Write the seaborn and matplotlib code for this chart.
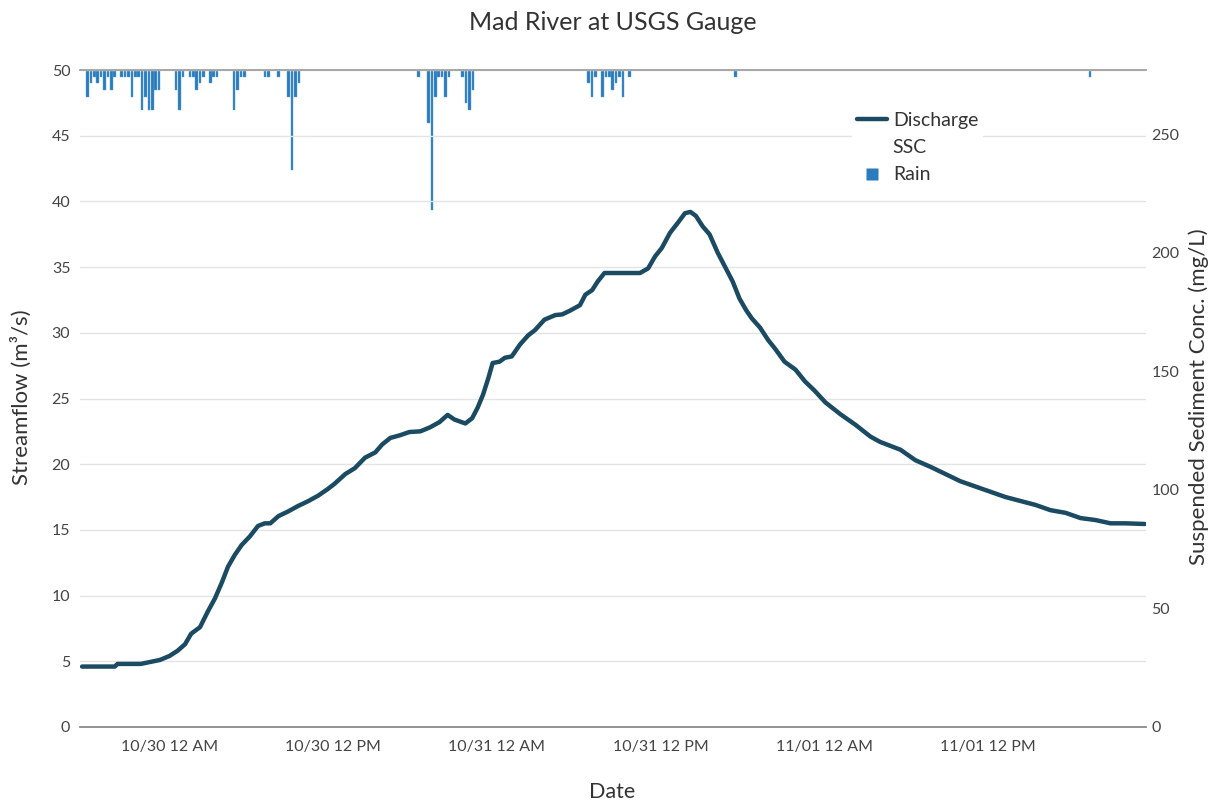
import matplotlib
matplotlib.use("Agg")
import matplotlib.pyplot as plt
import matplotlib.dates as mdates
from matplotlib.lines import Line2D
import numpy as np
import pandas as pd
import seaborn as sns

# ---- data -------------------------------------------------------------
base_time = pd.Timestamp("2019-10-30 00:00")

# Discharge (m3/s), hours relative to 10/30 midnight
discharge_hours = [
    -6.4, -4.0, -3.8, -2.1, -1.4, -0.7, 0.0, 0.6, 1.15, 1.6, 2.25, 2.8, 3.35,
    3.85, 4.3, 4.8, 5.3, 5.9, 6.5, 7.0, 7.4, 8.0, 8.7, 9.4, 10.2, 10.9, 11.6,
    12.1, 12.9, 13.6, 14.35, 15.1, 15.6, 16.2, 16.9, 17.6, 18.4, 19.1, 19.8,
    20.4, 20.9, 21.7, 22.2, 22.6, 23.0, 23.4, 23.7, 24.2, 24.6, 25.1, 25.7,
    26.3, 26.8, 27.5, 28.3, 28.8, 29.4, 30.1, 30.5, 31.0, 31.4, 31.9, 32.5,
    34.5, 35.1, 35.6, 36.1, 36.7, 37.3, 37.8, 38.2, 38.6, 39.1, 39.6, 40.2,
    40.7, 41.3, 41.8, 42.3, 42.7, 43.3, 43.9, 44.4, 45.1, 45.9, 46.6, 47.3,
    48.1, 49.2, 50.3, 51.4, 52.1, 53.6, 54.7, 55.8, 56.9, 58.0, 59.1, 60.2,
    61.3, 62.4, 63.5, 64.6, 65.7, 66.8, 67.9, 69.0, 70.1, 71.5,
]
discharge_cms = [
    4.6, 4.6, 4.8, 4.8, 4.95, 5.1, 5.4, 5.8, 6.3, 7.1, 7.6, 8.75, 9.8,
    11.0, 12.2, 13.1, 13.85, 14.5, 15.3, 15.5, 15.5, 16.05, 16.4, 16.8, 17.2,
    17.6, 18.1, 18.5, 19.25, 19.7, 20.5, 20.9, 21.5, 22.0, 22.2, 22.45, 22.5,
    22.8, 23.2, 23.75, 23.4, 23.1, 23.5, 24.3, 25.3, 26.6, 27.7, 27.8, 28.1,
    28.2, 29.1, 29.8, 30.2, 31.0, 31.35, 31.4, 31.7, 32.1, 32.9, 33.25, 33.9,
    34.55, 34.55, 34.55, 34.9, 35.8, 36.45, 37.6, 38.4, 39.1, 39.2, 38.9, 38.1,
    37.5, 36.1, 35.1, 33.9, 32.6, 31.7, 31.1, 30.4, 29.45, 28.8, 27.8, 27.2,
    26.3, 25.6, 24.7, 23.8, 23.0, 22.1, 21.7, 21.1, 20.3, 19.8, 19.25, 18.7,
    18.3, 17.9, 17.5, 17.2, 16.9, 16.5, 16.3, 15.9, 15.75, 15.5, 15.5, 15.45,
]

# Rainfall (inches per 15 min), hours relative to 10/30 midnight
rain_hours = [
    -6.0, -5.75, -5.5, -5.25, -5.0, -4.75, -4.5, -4.25, -4.0,
    -3.5, -3.25, -3.0, -2.75, -2.5, -2.25, -2.0, -1.75, -1.5, -1.25, -1.0, -0.75,
    0.5, 0.75, 1.0, 1.5, 1.75, 2.0, 2.25, 2.5, 3.0, 3.25, 3.5,
    4.75, 5.0, 5.25, 5.5, 7.0, 7.25, 8.0, 8.75, 9.0, 9.25, 9.5,
    18.25, 19.0, 19.25, 19.5, 19.75, 20.0, 20.25, 20.5,
    21.5, 21.75, 22.0, 22.25,
    30.75, 31.0, 31.25, 31.75, 32.0, 32.25, 32.5, 32.75, 33.0, 33.25, 33.75,
    41.5, 67.5,
]
rain_in = [
    0.04, 0.02, 0.01, 0.02, 0.01, 0.03, 0.01, 0.03, 0.01,
    0.01, 0.01, 0.01, 0.04, 0.01, 0.01, 0.06, 0.04, 0.06, 0.06, 0.03, 0.03,
    0.03, 0.06, 0.01, 0.01, 0.01, 0.03, 0.02, 0.01, 0.02, 0.01, 0.01,
    0.06, 0.03, 0.01, 0.01, 0.01, 0.01, 0.01, 0.04, 0.15, 0.04, 0.02,
    0.01, 0.08, 0.21, 0.04, 0.01, 0.01, 0.04, 0.01,
    0.01, 0.05, 0.06, 0.03,
    0.02, 0.04, 0.01, 0.04, 0.01, 0.01, 0.03, 0.02, 0.01, 0.04, 0.01,
    0.01, 0.01,
]

flow = pd.DataFrame({
    "time": base_time + pd.to_timedelta(discharge_hours, unit="h"),
    "Discharge": discharge_cms,
})
rain = pd.DataFrame({
    "time": base_time + pd.to_timedelta(rain_hours, unit="h"),
    "Rain": rain_in,
})

# ---- style ------------------------------------------------------------
sns.set_theme(style="white")
plt.rcParams["font.family"] = ["Lato", "DejaVu Sans"]
text_col = "#444444"
label_col = "#333333"
line_col = "#1b4a63"
rain_col = "#2b7bbf"
axis_col = "#8a8a8a"

fig = plt.figure(figsize=(12.13, 8.01), dpi=100)
ax = fig.add_axes([80 / 1213, 1 - 727 / 801, (1146 - 80) / 1213, (727 - 70) / 801])
ax_ssc = ax.twinx()
ax_rain = ax.twinx()

# discharge
sns.lineplot(data=flow, x="time", y="Discharge", ax=ax, color=line_col,
             linewidth=3.2, legend=False)
ax.set_ylim(0, 50)
ax.set_yticks(np.arange(0, 51, 5))
ax.grid(axis="y", color="#e4e4e4", linewidth=1)
ax.set_xlabel("")
ax.set_ylabel("")

# rain hanging from the top
bar_w = 2.6 / 13.64 / 24
ax_rain.bar(rain["time"], rain["Rain"], width=bar_w, color=rain_col,
            edgecolor="#5fa3d6", linewidth=0.3)
ax_rain.set_ylim(0.985, 0)
ax_rain.set_yticks([])
ax_rain.grid(False)

# SSC axis (right)
ax_ssc.set_ylim(0, 277)
ax_ssc.set_yticks(np.arange(0, 251, 50))
ax_ssc.grid(False)

x0 = base_time + pd.Timedelta(hours=-6.55)
x1 = base_time + pd.Timedelta(hours=71.6)
ax.set_xlim(x0, x1)
ticks = [base_time + pd.Timedelta(hours=h) for h in range(0, 61, 12)]
ax.set_xticks(ticks)
ax.xaxis.set_major_formatter(mdates.DateFormatter("%m/%d %I %p"))

for a in (ax, ax_ssc, ax_rain):
    for side in ("left", "right", "top", "bottom"):
        a.spines[side].set_visible(False)
ax.spines["bottom"].set_visible(True)
ax.spines["bottom"].set_color(axis_col)
ax.spines["bottom"].set_linewidth(1.3)
ax.spines["top"].set_visible(True)
ax.spines["top"].set_color("#a0a0a0")
ax.spines["top"].set_linewidth(1.3)
ax.set_zorder(ax_rain.get_zorder() + 1)
ax.patch.set_visible(False)

ax.tick_params(axis="x", direction="in", length=8, width=1, color=axis_col,
               labelsize=11.5, labelcolor=text_col, pad=9)
ax.tick_params(axis="y", length=0, labelsize=11.5, labelcolor=text_col, pad=7)
ax_ssc.tick_params(axis="y", length=0, labelsize=11.5, labelcolor=text_col, pad=4)

# titles and labels
fig.text(0.505, 1 - 22 / 801, "Mad River at USGS Gauge", ha="center", va="center",
         fontsize=18, color=label_col)
fig.text(612 / 1213, 1 - 792 / 801, "Date", ha="center", va="center",
         fontsize=15.5, color=label_col)
fig.text(21 / 1213, 1 - 397 / 801, "Streamflow (m³/s)", ha="center", va="center",
         rotation=90, fontsize=16, color=label_col)
fig.text(1199 / 1213, 1 - 397 / 801, "Suspended Sediment Conc. (mg/L)",
         ha="center", va="center", rotation=90, fontsize=16, color=label_col)

# legend
handles = [
    Line2D([], [], color=line_col, linewidth=3.2, label="Discharge"),
    Line2D([], [], color="none", label="SSC"),
    Line2D([], [], color="none", marker="s", markersize=9,
           markerfacecolor=rain_col, markeredgecolor="none", label="Rain"),
]
leg = fig.legend(handles=handles, loc="upper left",
                 bbox_to_anchor=(852 / 1213, 1 - 107 / 801), frameon=True,
                 facecolor="white", edgecolor="none", framealpha=1,
                 fontsize=14, handlelength=1.55, handleheight=0.6,
                 labelspacing=0.52, borderpad=0.25, handletextpad=0.3,
                 borderaxespad=0)
for t in leg.get_texts():
    t.set_color(label_col)

fig.savefig("out.png", dpi=100)
